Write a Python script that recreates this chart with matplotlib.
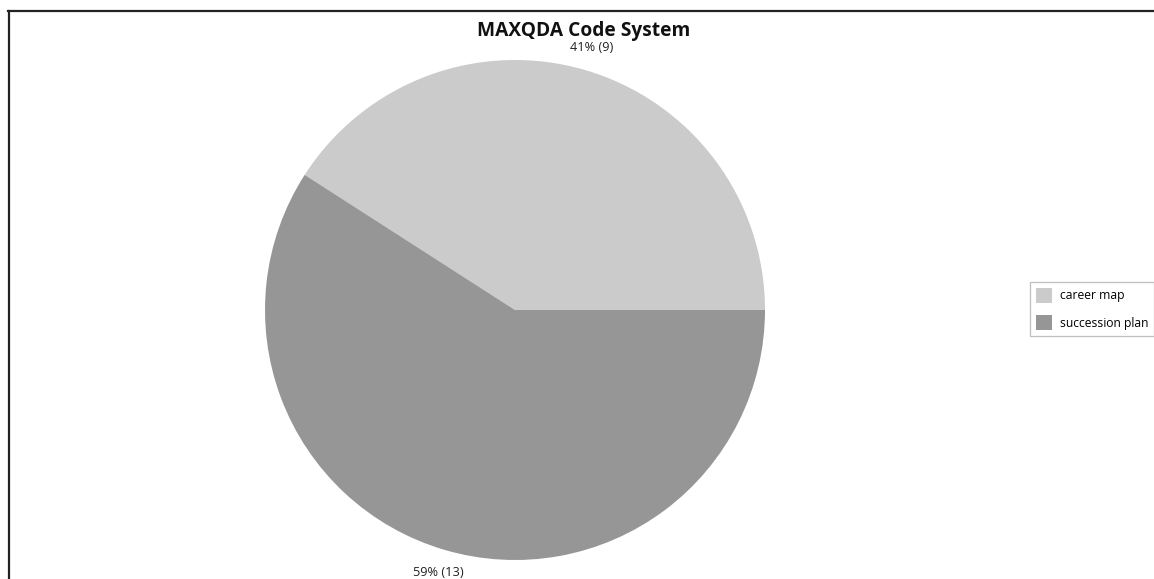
import matplotlib
matplotlib.use("Agg")
import matplotlib.pyplot as plt
from matplotlib.lines import Line2D

categories = ["career map", "succession plan"]
counts = [9, 13]
colors = ["#cbcbcb", "#969696"]
title = "MAXQDA Code System"

plt.rcParams['font.family'] = ['Open Sans', 'DejaVu Sans']

W, H = 1154, 579
fig = plt.figure(figsize=(W / 100, H / 100), dpi=100)
fig.patch.set_facecolor("white")

# frame lines (top and left)
fig.add_artist(Line2D([8 / W, 1.0], [1 - 10.5 / H, 1 - 10.5 / H], color="#222222", lw=1.6, transform=fig.transFigure))
fig.add_artist(Line2D([8.5 / W, 8.5 / W], [0, 1 - 10.5 / H], color="#222222", lw=1.6, transform=fig.transFigure))

cx, cy, r = 515, 310, 250
ax = fig.add_axes([(cx - r) / W, (H - cy - r) / H, 2 * r / W, 2 * r / H])
total = sum(counts)
labels = [f"{round(100 * c / total)}% ({c})" for c in counts]
wedges, texts = ax.pie(counts, colors=colors, startangle=0, counterclock=True,
                       labels=labels, labeldistance=1.095,
                       wedgeprops=dict(edgecolor="none", linewidth=0),
                       textprops=dict(fontsize=9.2, color="#222222"))
for t in texts:
    t.set_ha("center")
    t.set_va("center")
ax.set_xlim(-1, 1)
ax.set_ylim(-1, 1)
ax.set_aspect("equal")
ax.axis("off")

fig.text(584 / W, 1 - 31 / H, title, ha="center", va="center", fontsize=13.8, fontweight="bold", color="#111111")

leg = fig.legend(wedges, categories, loc="center left", bbox_to_anchor=(1030 / W, 1 - 309 / H),
                 frameon=True, fancybox=False, fontsize=8.7, handlelength=1.35, handleheight=1.45,
                 handletextpad=0.6, borderpad=0.5, labelspacing=1.05, borderaxespad=0)
leg.get_frame().set_edgecolor("#b0b0b0")
leg.get_frame().set_linewidth(0.9)
for h in leg.legend_handles:
    h.set_edgecolor("none")

fig.savefig("out.png", dpi=100, facecolor="white")
